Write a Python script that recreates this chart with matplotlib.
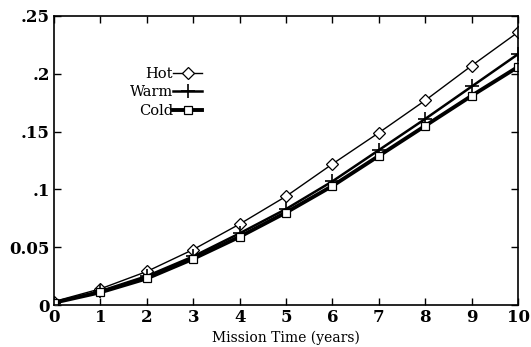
import matplotlib
matplotlib.use('Agg')
from matplotlib import pyplot as plt

years = [0, 1, 2, 3, 4, 5, 6, 7, 8, 9, 10]
hot = [0.003, 0.014, 0.029, 0.048, 0.070, 0.094, 0.122, 0.149, 0.177, 0.207, 0.236]
warm = [0.002, 0.012, 0.025, 0.042, 0.062, 0.083, 0.107, 0.134, 0.161, 0.189, 0.217]
cold = [0.002, 0.011, 0.023, 0.040, 0.059, 0.080, 0.103, 0.129, 0.155, 0.181, 0.206]

yticks = [0, 0.05, 0.1, 0.15, 0.2, 0.25]
ytick_labels = ['0', '0.05', '.1', '.15', '.2', '.25']

plt.rcParams['font.family'] = ['DejaVu Serif']

fig = plt.figure(figsize=(5.31, 3.47), dpi=100)
ax = fig.add_axes([0.1017, 0.121, 0.874, 0.833])

ax.plot(years, hot, color='black', lw=1.0, marker='D', markersize=6,
        markerfacecolor='white', markeredgewidth=0.9, label='Hot')
ax.plot(years, warm, color='black', lw=1.8, marker='+', markersize=10,
        markeredgewidth=1.2, label='Warm')
ax.plot(years, cold, color='black', lw=2.8, marker='s', markersize=6,
        markerfacecolor='white', markeredgewidth=0.9, label='Cold')

ax.set_xlim(0, 10)
ax.set_ylim(0, 0.25)
ax.set_xticks(years)
ax.set_yticks(yticks)
ax.set_yticklabels(ytick_labels)
ax.tick_params(direction='in', top=True, right=True, length=5, labelsize=12,
               width=1, pad=3)
for lab in ax.get_xticklabels() + ax.get_yticklabels():
    lab.set_fontweight('bold')
for s in ax.spines.values():
    s.set_linewidth(1.2)
ax.set_xlabel('Mission Time (years)', fontsize=10, labelpad=3)

# legend: text right of a short sample, as in the original key
leg = ax.legend(loc='upper left', bbox_to_anchor=(0.148, 0.85), frameon=False,
                markerfirst=False, handlelength=2.0, handletextpad=0.0,
                labelspacing=0.32, fontsize=10.5, borderpad=0)

fig.savefig('out.png', dpi=100)
